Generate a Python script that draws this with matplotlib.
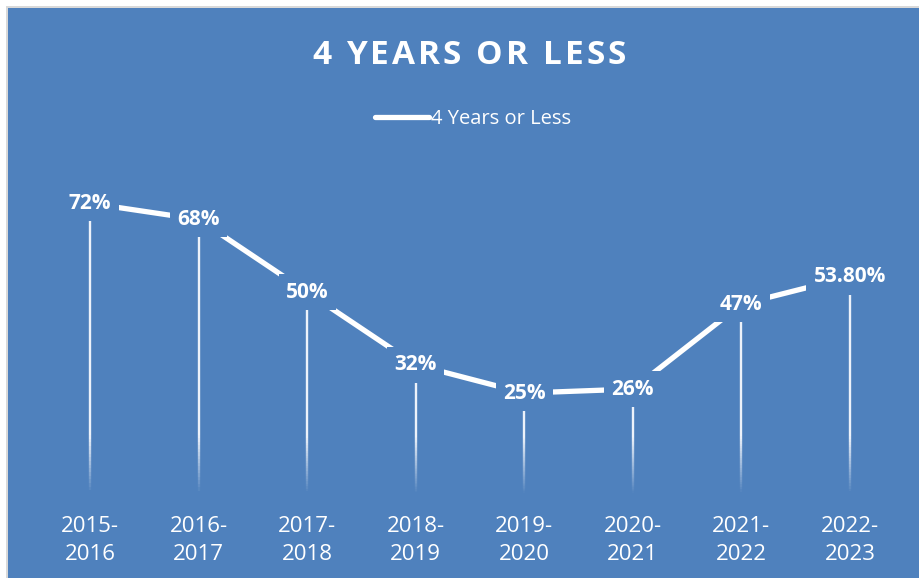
import numpy as np
import matplotlib.pyplot as plt
from matplotlib.collections import LineCollection
from matplotlib.patches import Rectangle

# data
years = ['2015-\n2016', '2016-\n2017', '2017-\n2018', '2018-\n2019',
         '2019-\n2020', '2020-\n2021', '2021-\n2022', '2022-\n2023']
pct = [72, 68, 50, 32, 25, 26, 47, 53.8]
pct_labels = ['72%', '68%', '50%', '32%', '25%', '26%', '47%', '53.80%']
title = '4 YEARS OR LESS'

BLUE = '#4F81BD'
FONT = 'Open Sans'

fig = plt.figure(figsize=(9.19, 5.78), dpi=100)
fig.patch.set_facecolor('white')

# chart area background with thin grey frame
W, H = 919.0, 578.0
fig.patches.append(Rectangle((6 / W, 0), 1, 1 - 6 / H, transform=fig.transFigure,
                             facecolor='#D9D9D9', edgecolor='none', zorder=-10))
fig.patches.append(Rectangle((8 / W, 0), 1, 1 - 8 / H, transform=fig.transFigure,
                             facecolor=BLUE, edgecolor='none', zorder=-9))

ax = fig.add_axes([35.75 / W, (H - 494) / H, 868.5 / W, 323 / H])
ax.set_facecolor('none')
x = np.arange(len(years))

# drop lines fading towards the bottom
for xi, v in zip(x, pct):
    ys = np.linspace(0, v, 80)
    segs = [[(xi, ys[k]), (xi, ys[k + 1])] for k in range(len(ys) - 1)]
    alphas = np.clip(ys[:-1] / 14.0, 0, 1)
    cols = [(0.93, 0.95, 0.98, a) for a in alphas]
    ax.add_collection(LineCollection(segs, colors=cols, linewidths=1.7, zorder=2))

line, = ax.plot(x, pct, color='white', lw=3.8, solid_capstyle='butt', zorder=3,
                label='4 Years or Less')

for xi, v, lab in zip(x, pct, pct_labels):
    ax.text(xi, v, lab, ha='center', va='center', color='white', fontsize=15,
            fontweight='bold', family=FONT, zorder=5,
            bbox=dict(boxstyle='square,pad=0.35', facecolor=BLUE, edgecolor='none'))

ax.set_xlim(-0.5, len(years) - 0.5)
ax.set_ylim(0, 80)
ax.set_xticks(x)
ax.set_xticklabels(years, color='white', fontsize=16, family=FONT, linespacing=1.4)
ax.tick_params(axis='x', length=0, pad=16)
ax.set_yticks([])
for s in ax.spines.values():
    s.set_visible(False)

# letter-spaced title, one character at a time
renderer = fig.canvas.get_renderer()
spacing = 3.0  # px between letters
chars = []
for ch in title:
    t = fig.text(0, 1 - 56 / H, ch, ha='left', va='center', color='white',
                 fontsize=24, fontweight='bold', family=FONT)
    w = t.get_window_extent(renderer).width if ch != ' ' else 9.0
    chars.append((t, w))
total = sum(w for _, w in chars) + spacing * (len(chars) - 1)
xpos = 469 - total / 2
for t, w in chars:
    t.set_x(xpos / W)
    xpos += w + spacing

leg = fig.legend(handles=[line], loc='center', bbox_to_anchor=(473 / W, 1 - 119 / H),
                 frameon=False, handlelength=2.7, handletextpad=0.1,
                 prop={'family': FONT, 'size': 14.5})
for t in leg.get_texts():
    t.set_color('white')
leg.get_lines()[0].set_solid_capstyle('round')

fig.savefig('out.png', dpi=100, facecolor=fig.get_facecolor())
